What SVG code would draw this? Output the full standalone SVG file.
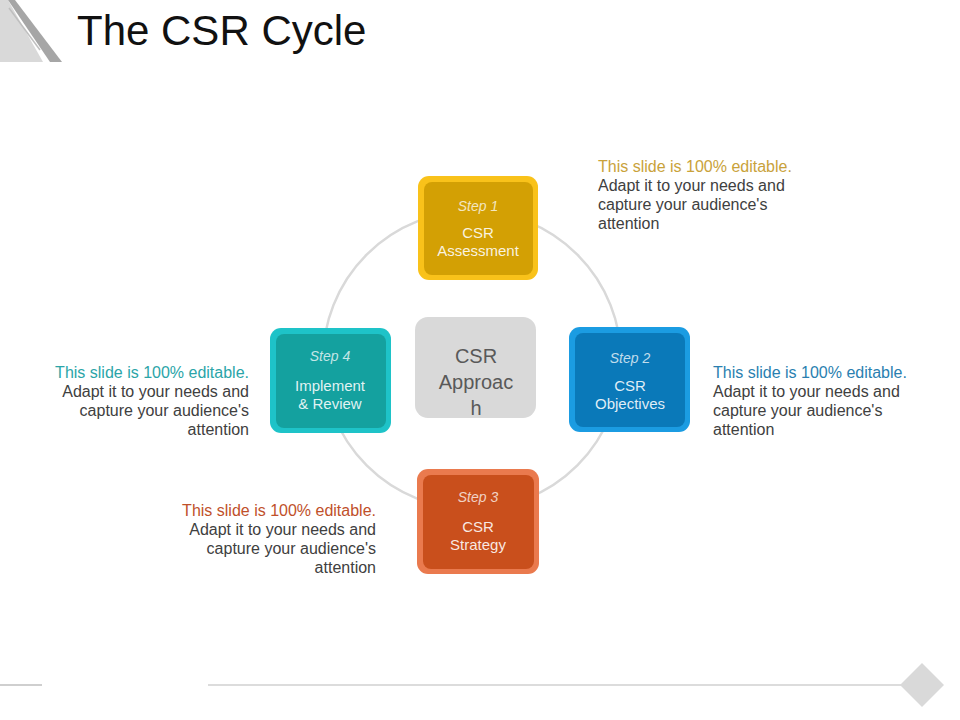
<svg xmlns="http://www.w3.org/2000/svg" width="960" height="720" viewBox="0 0 960 720">
<style>
text{font-family:"Liberation Sans",Arial,sans-serif}
.title{font-size:42px;fill:#111}
.step{font-size:14px;font-style:italic;fill:#fff;fill-opacity:0.75;text-anchor:middle}
.lbl{font-size:15px;fill:#fff;fill-opacity:0.88;text-anchor:middle}
.body{font-size:16px;fill:#404040}
.ctr{font-size:20px;fill:#595959;text-anchor:middle}
.r{text-anchor:end}
</style>
<rect width="960" height="720" fill="#fff"/>
<g id="corner">
<polygon points="0,0 8,0 43,62 0,62" fill="#d9d9d9"/>
<polygon points="8,0 15,0 62,62 50,62" fill="#a6a6a6"/>
<line x1="9" y1="8" x2="40" y2="50" stroke="#bfbfbf" stroke-width="1.5"/>
</g>
<text class="title" x="77" y="45">The CSR Cycle</text>
<g id="connectors">
<circle cx="472" cy="360" r="149" fill="none" stroke="#d9d9d9" stroke-width="2.5"/>
</g>
<g id="center">
<rect x="415" y="317" width="121" height="101" rx="13" fill="#d9d9d9"/>
<text class="ctr" x="476" y="363">CSR</text>
<text class="ctr" x="476" y="389">Approac</text>
<text class="ctr" x="476" y="415">h</text>
</g>
<g id="step1">
<rect x="418" y="176" width="120" height="104" rx="11" fill="#f9c21a"/>
<rect x="424" y="182" width="109" height="93" rx="8" fill="#d3a004"/>
<text class="step" x="478" y="211">Step 1</text>
<text class="lbl" x="478" y="238">CSR</text>
<text class="lbl" x="478" y="256">Assessment</text>
</g>
<g id="step2">
<rect x="569" y="327" width="121" height="105" rx="11" fill="#1b9ce2"/>
<rect x="575" y="333" width="110" height="94" rx="8" fill="#0a79b9"/>
<text class="step" x="630" y="363">Step 2</text>
<text class="lbl" x="630" y="391">CSR</text>
<text class="lbl" x="630" y="409">Objectives</text>
</g>
<g id="step3">
<rect x="417" y="469" width="122" height="105" rx="11" fill="#ea7a4e"/>
<rect x="423" y="475" width="111" height="94" rx="8" fill="#c94f1c"/>
<text class="step" x="478" y="502">Step 3</text>
<text class="lbl" x="478" y="532">CSR</text>
<text class="lbl" x="478" y="550">Strategy</text>
</g>
<g id="step4">
<rect x="270" y="328" width="121" height="105" rx="11" fill="#1ec3c8"/>
<rect x="276" y="334" width="110" height="94" rx="8" fill="#14a19f"/>
<text class="step" x="330" y="361">Step 4</text>
<text class="lbl" x="330" y="391">Implement</text>
<text class="lbl" x="330" y="409">&amp; Review</text>
</g>
<g id="note1">
<text class="body" x="598" y="172" fill="#c9a23a" style="fill:#c9a23a">This slide is 100% editable.</text>
<text class="body" x="598" y="191">Adapt it to your needs and</text>
<text class="body" x="598" y="210">capture your audience's</text>
<text class="body" x="598" y="229">attention</text>
</g>
<g id="note2">
<text class="body" x="713" y="378" style="fill:#2a7fb0">This slide is 100% editable.</text>
<text class="body" x="713" y="397">Adapt it to your needs and</text>
<text class="body" x="713" y="416">capture your audience's</text>
<text class="body" x="713" y="435">attention</text>
</g>
<g id="note4">
<text class="body r" x="249" y="378" style="fill:#2ba5a8">This slide is 100% editable.</text>
<text class="body r" x="249" y="397">Adapt it to your needs and</text>
<text class="body r" x="249" y="416">capture your audience's</text>
<text class="body r" x="249" y="435">attention</text>
</g>
<g id="note3">
<text class="body r" x="376" y="516" style="fill:#c0502a">This slide is 100% editable.</text>
<text class="body r" x="376" y="535">Adapt it to your needs and</text>
<text class="body r" x="376" y="554">capture your audience's</text>
<text class="body r" x="376" y="573">attention</text>
</g>
<g id="footer">
<line x1="0" y1="685" x2="42" y2="685" stroke="#bfbfbf" stroke-width="1.5"/>
<line x1="208" y1="685" x2="902" y2="685" stroke="#d0d0d0" stroke-width="1.5"/>
<polygon points="900,685 922,663 944,685 922,707" fill="#d9d9d9"/>
</g>
</svg>
